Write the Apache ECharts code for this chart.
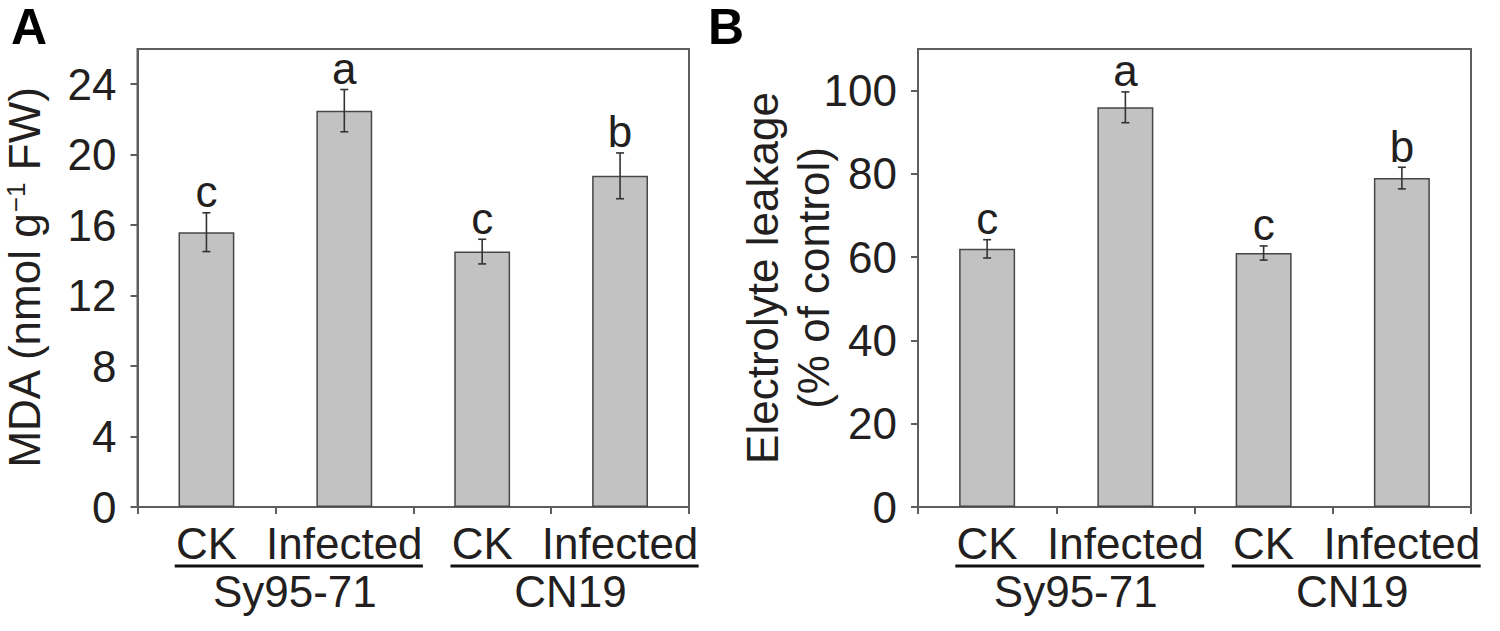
<!DOCTYPE html>
<html><head><meta charset="utf-8">
<script src="https://cdn.jsdelivr.net/npm/echarts@6/dist/echarts.min.js"></script>
<style>html,body{margin:0;padding:0;background:#fff}#c{width:1500px;height:631px}</style>
</head><body><div id="c"></div>
<script>
// ---- data ----
const categories = ['CK', 'Infected', 'CK', 'Infected'];
const groups = ['Sy95-71', 'CN19'];
const mdaMean = [15.6, 22.5, 14.5, 18.8];
const mdaErr = [1.1, 1.2, 0.7, 1.3];
const mdaLetters = ['c', 'a', 'c', 'b'];
const elMean = [62, 96, 61, 79];
const elErr = [2.2, 3.7, 1.7, 2.6];
const elLetters = ['c', 'a', 'c', 'b'];
const mdaTicks = [0, 4, 8, 12, 16, 20, 24];
const elTicks = [0, 20, 40, 60, 80, 100];
const panelLabels = ['A', 'B'];

const FONT = "'Liberation Sans', Arial, Helvetica, sans-serif";
const TXT = '#231f20';
const AX = '#5e5e5e';
const FS = 44;

const chart = echarts.init(document.getElementById('c'), null, {renderer: 'svg'});

function xAxisFor(gi) {
  return {
    type: 'category', gridIndex: gi, data: categories,
    axisLine: {show: true, lineStyle: {color: AX, width: 2}},
    axisTick: {show: true, length: 7, lineStyle: {color: AX, width: 2}},
    axisLabel: {interval: 0, fontFamily: FONT, fontSize: FS, color: TXT, margin: 14},
    splitLine: {show: false}
  };
}
function yAxisFor(gi, max, ticks, name, gap, lh, rich) {
  return {
    type: 'value', gridIndex: gi, min: 0, max: max,
    axisLine: {show: true, lineStyle: {color: AX, width: 2}},
    axisTick: {show: true, length: 7, customValues: ticks, lineStyle: {color: AX, width: 2}},
    axisLabel: {customValues: ticks, fontFamily: FONT, fontSize: FS, color: TXT, margin: 21},
    splitLine: {show: false},
    name: name, nameLocation: 'middle', nameRotate: 90, nameGap: gap, nameMoveOverlap: false,
    nameTextStyle: {fontFamily: FONT, fontSize: FS, color: TXT, lineHeight: lh, rich: rich || {}}
  };
}
function barSeries(gi, vals) {
  return {
    type: 'bar', xAxisIndex: gi, yAxisIndex: gi, data: vals, barWidth: '40.5%',
    itemStyle: {color: '#c2c2c2', borderColor: '#474747', borderWidth: 1.5},
    silent: true
  };
}
function errSeries(gi, means, errs, letters) {
  return {
    type: 'custom', xAxisIndex: gi, yAxisIndex: gi, z: 10, silent: true,
    data: means.map((m, i) => [i, m - errs[i], m + errs[i]]),
    renderItem: function (params, api) {
      const x = api.value(0);
      const lo = api.coord([x, api.value(1)]);
      const hi = api.coord([x, api.value(2)]);
      const c = 4;
      const st = {stroke: '#333', lineWidth: 1.6};
      return {
        type: 'group', children: [
          {type: 'line', shape: {x1: lo[0], y1: lo[1], x2: hi[0], y2: hi[1]}, style: st},
          {type: 'line', shape: {x1: lo[0] - c, y1: lo[1], x2: lo[0] + c, y2: lo[1]}, style: st},
          {type: 'line', shape: {x1: hi[0] - c, y1: hi[1], x2: hi[0] + c, y2: hi[1]}, style: st},
          {type: 'text', x: hi[0], y: hi[1] + 1, style: {
            text: letters[params.dataIndex], fontFamily: FONT, fontSize: FS, fill: TXT,
            align: 'center', verticalAlign: 'bottom'}}
        ]
      };
    }
  };
}

const option = {
  backgroundColor: '#fff',
  animation: false,
  title: [
    {text: panelLabels[0], left: 11, top: 7, padding: 0, textStyle: {fontFamily: FONT, fontSize: 50, lineHeight: 40, fontWeight: 'bold', color: '#000'}},
    {text: panelLabels[1], left: 708, top: 7, padding: 0, textStyle: {fontFamily: FONT, fontSize: 50, lineHeight: 40, fontWeight: 'bold', color: '#000'}}
  ],
  grid: [
    {left: 137.5, top: 49, width: 551.5, height: 458, show: true, borderColor: AX, borderWidth: 2, containLabel: false, outerBoundsMode: 'none'},
    {left: 918, top: 49, width: 553, height: 458, show: true, borderColor: AX, borderWidth: 2, containLabel: false, outerBoundsMode: 'none'}
  ],
  xAxis: [xAxisFor(0), xAxisFor(1)],
  yAxis: [
    yAxisFor(0, 26, mdaTicks, 'MDA (nmol g{sup|−1} FW)', 91, 44,
      {sup: {fontFamily: FONT, fontSize: 26, color: TXT, verticalAlign: 'top', lineHeight: 44, padding: [0, 0, 12, 0]}}),
    yAxisFor(1, 110, elTicks, 'Electrolyte leakage\n(% of control)', 79.5, 51)
  ],
  series: [
    barSeries(0, mdaMean), errSeries(0, mdaMean, mdaErr, mdaLetters),
    barSeries(1, elMean), errSeries(1, elMean, elErr, elLetters)
  ]
};
chart.setOption(option);

// group underlines and group names, placed from the category scale
const graphics = [];
[0, 1].forEach(function (gi) {
  const p0 = chart.convertToPixel({xAxisIndex: gi}, 0);
  const p1 = chart.convertToPixel({xAxisIndex: gi}, 1);
  const band = p1 - p0;
  const base = chart.convertToPixel({yAxisIndex: gi}, 0);
  groups.forEach(function (g, k) {
    const a = chart.convertToPixel({xAxisIndex: gi}, 2 * k);
    const b = chart.convertToPixel({xAxisIndex: gi}, 2 * k + 1);
    const x1 = a - 0.23 * band, x2 = b + 0.57 * band;
    graphics.push({type: 'line', shape: {x1: x1, y1: base + 59, x2: x2, y2: base + 59},
      style: {stroke: '#111', lineWidth: 3}, silent: true});
    graphics.push({type: 'text', x: (x1 + x2) / 2 - 4, y: base + 84,
      style: {text: g, fontFamily: FONT, fontSize: FS, fill: TXT, align: 'center', verticalAlign: 'middle'}, silent: true});
  });
});
chart.setOption({graphic: graphics});
</script>
</body></html>
